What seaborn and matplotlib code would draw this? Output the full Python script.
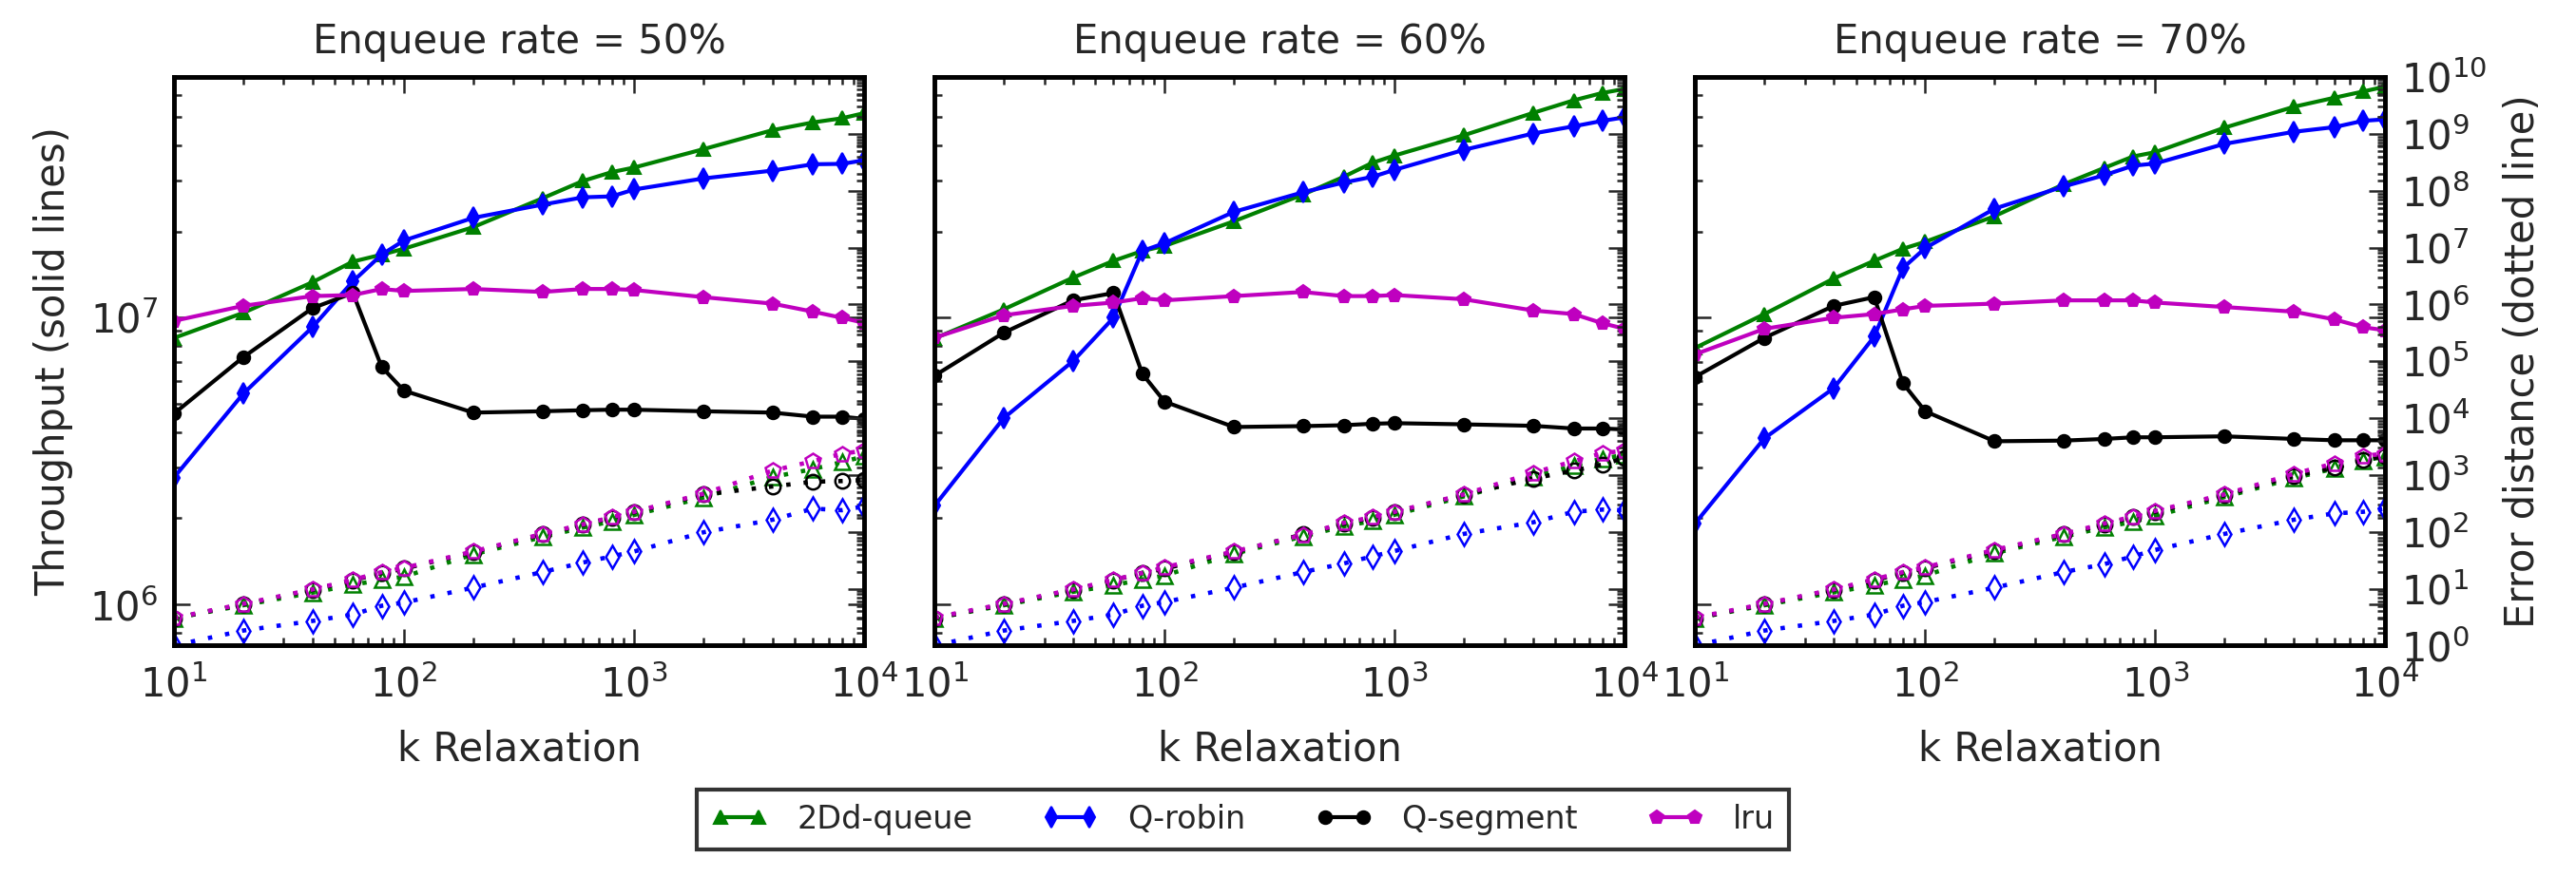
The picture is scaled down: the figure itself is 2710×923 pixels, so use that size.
import numpy as np
import pandas as pd
import matplotlib
matplotlib.use("Agg")
import matplotlib.pyplot as plt
import matplotlib.ticker as mticker
import seaborn as sns

# enqueue rates (one panel each) and relaxation values
rates = [50, 60, 70]
k_values = [10, 20, 40, 60, 80, 100, 200, 400, 600, 800, 1000, 2000, 4000, 6000, 8000, 10000]

# throughput (solid lines), one row per enqueue rate
tput_2dd = [
    [8.5e6, 1.04e7, 1.33e7, 1.57e7, 1.66e7, 1.74e7, 2.07e7, 2.61e7, 3.0e7, 3.22e7, 3.34e7, 3.87e7, 4.51e7, 4.80e7, 4.96e7, 5.17e7],
    [8.47e6, 1.07e7, 1.38e7, 1.58e7, 1.71e7, 1.78e7, 2.17e7, 2.69e7, 3.1e7, 3.47e7, 3.68e7, 4.33e7, 5.18e7, 5.73e7, 6.08e7, 6.28e7],
    [7.85e6, 1.03e7, 1.37e7, 1.58e7, 1.74e7, 1.84e7, 2.26e7, 2.92e7, 3.33e7, 3.65e7, 3.78e7, 4.6e7, 5.44e7, 5.85e7, 6.15e7, 6.4e7],
]
tput_robin = [
    [2.77e6, 5.43e6, 9.27e6, 1.34e7, 1.66e7, 1.86e7, 2.23e7, 2.48e7, 2.63e7, 2.65e7, 2.80e7, 3.06e7, 3.26e7, 3.43e7, 3.44e7, 3.54e7],
    [2.21e6, 4.47e6, 7.06e6, 1.0e7, 1.71e7, 1.82e7, 2.34e7, 2.74e7, 2.96e7, 3.1e7, 3.28e7, 3.85e7, 4.39e7, 4.65e7, 4.86e7, 5.0e7],
    [1.92e6, 3.8e6, 5.68e6, 8.59e6, 1.49e7, 1.75e7, 2.4e7, 2.87e7, 3.14e7, 3.39e7, 3.45e7, 4.04e7, 4.45e7, 4.62e7, 4.86e7, 4.92e7],
]
tput_segment = [
    [4.63e6, 7.28e6, 1.08e7, 1.22e7, 6.74e6, 5.57e6, 4.67e6, 4.72e6, 4.76e6, 4.78e6, 4.78e6, 4.72e6, 4.67e6, 4.52e6, 4.52e6, 4.44e6],
    [6.28e6, 8.87e6, 1.15e7, 1.22e7, 6.38e6, 5.1e6, 4.16e6, 4.19e6, 4.22e6, 4.27e6, 4.29e6, 4.25e6, 4.2e6, 4.11e6, 4.11e6, 4.08e6],
    [6.22e6, 8.51e6, 1.10e7, 1.18e7, 5.91e6, 4.72e6, 3.71e6, 3.73e6, 3.78e6, 3.83e6, 3.83e6, 3.86e6, 3.78e6, 3.74e6, 3.74e6, 3.74e6],
]
tput_lru = [
    [9.75e6, 1.10e7, 1.19e7, 1.20e7, 1.26e7, 1.24e7, 1.26e7, 1.23e7, 1.26e7, 1.26e7, 1.25e7, 1.18e7, 1.12e7, 1.05e7, 1.0e7, 9.6e6],
    [8.52e6, 1.02e7, 1.10e7, 1.13e7, 1.17e7, 1.15e7, 1.19e7, 1.23e7, 1.19e7, 1.19e7, 1.20e7, 1.16e7, 1.06e7, 1.03e7, 9.57e6, 9.15e6],
    [7.46e6, 9.15e6, 1.0e7, 1.03e7, 1.07e7, 1.10e7, 1.12e7, 1.15e7, 1.15e7, 1.15e7, 1.13e7, 1.09e7, 1.05e7, 9.87e6, 9.27e6, 9.04e6],
]

# error distance (dotted lines), one row per enqueue rate
err_2dd = [
    [3.0, 5.1, 8.5, 11.7, 14.3, 16.2, 40, 81, 119, 153, 198, 401, 923, 1273, 1687, 2128],
    [3.0, 5.1, 8.8, 11.5, 14.5, 17, 41, 83, 125, 155, 200, 420, 930, 1450, 1950, 2250],
    [3.0, 5.1, 8.6, 11.5, 14.5, 17, 42, 82, 120, 150, 190, 410, 880, 1300, 1800, 2100],
]
err_robin = [
    [1.0, 1.83, 2.7, 3.5, 5.0, 5.7, 10.4, 19.6, 28.8, 37, 45, 98, 163, 256, 240, 280],
    [1.0, 1.83, 2.7, 3.5, 5.0, 5.8, 10.4, 19.6, 27.7, 37, 46, 92, 147, 225, 246, 240],
    [1.0, 1.83, 2.7, 3.5, 5.0, 5.8, 10.4, 19.6, 27, 37, 48, 92, 163, 211, 225, 256],
]
err_segment = [
    [3.0, 5.3, 9.5, 14, 19, 22.5, 44, 90, 132, 178, 220, 455, 628, 762, 782, 813],
    [3.0, 5.3, 9.5, 14, 19, 22.5, 44, 90, 138, 178, 220, 450, 867, 1194, 1530, 2000],
    [3.0, 5.3, 9.5, 14, 19, 23, 46, 90, 135, 180, 225, 440, 960, 1350, 1850, 2150],
]
err_lru = [
    [3.05, 5.4, 9.7, 14.3, 19.6, 23.2, 45, 92, 135, 181, 225, 469, 1194, 1750, 2360, 2680],
    [3.1, 5.4, 9.7, 14.3, 18.9, 23.8, 45, 88, 144, 181, 225, 456, 1092, 1750, 2415, 2680],
    [3.1, 5.4, 9.7, 14.6, 19.6, 23.8, 48, 92, 140, 186, 234, 456, 1050, 1600, 2180, 2360],
]

names = ["2Dd-queue", "Q-robin", "Q-segment", "lru"]
colors = ["g", "b", "k", "m"]
markers = ["^", "d", "o", "p"]
msizes = [3.3, 3.6, 3.2, 3.4]
tputs = [tput_2dd, tput_robin, tput_segment, tput_lru]
errs = [err_2dd, err_robin, err_segment, err_lru]

sns.set_style("ticks", {"xtick.direction": "in", "ytick.direction": "in",
                        "axes.edgecolor": "black"})
plt.rcParams["font.family"] = ["DejaVu Sans"]
plt.rcParams.update({
    "font.size": 10,
    "axes.linewidth": 1.1,
    "xtick.major.size": 4, "xtick.minor.size": 2,
    "ytick.major.size": 4, "ytick.minor.size": 2,
    "xtick.major.width": 0.6, "xtick.minor.width": 0.6,
    "ytick.major.width": 0.6, "ytick.minor.width": 0.6,
    "xtick.labelsize": 10, "ytick.labelsize": 10,
    "xtick.major.pad": 5, "ytick.major.pad": 4,
})

fig, axes = plt.subplots(1, 3, figsize=(2710 / 300, 923 / 300), dpi=300, sharey=True)
fig.subplots_adjust(left=0.0675, right=0.926, bottom=0.264, top=0.912, wspace=0.102)

for i, ax in enumerate(axes):
    ax.set_xscale("log")
    ax.set_yscale("log")
    twin = ax.twinx()
    twin.set_yscale("log")

    # throughput, solid lines with filled markers
    for j in range(4):
        sns.lineplot(x=k_values, y=tputs[j][i], ax=ax, color=colors[j], lw=1.0,
                     marker=markers[j], markersize=msizes[j],
                     markeredgecolor=colors[j], markerfacecolor=colors[j],
                     markeredgewidth=0.5, label=names[j], legend=False,
                     errorbar=None)
    # error distance, dotted lines with hollow markers
    for j in range(4):
        sns.lineplot(x=k_values, y=errs[j][i], ax=twin, color=colors[j], lw=1.1,
                     linestyle=(0, (1, 3)), marker=markers[j],
                     markersize=msizes[j] + 0.5, markeredgecolor=colors[j],
                     markerfacecolor="none", markeredgewidth=0.6,
                     legend=False, errorbar=None)

    ax.set_xlim(10, 1e4)
    ax.set_ylim(7.2e5, 6.9e7)
    twin.set_ylim(1, 1e10)
    ax.yaxis.set_minor_formatter(mticker.NullFormatter())

    twin.yaxis.set_major_locator(mticker.LogLocator(base=10, numticks=20))
    twin.yaxis.set_minor_locator(mticker.LogLocator(base=10, subs=np.arange(2, 10) * 1.0, numticks=20))
    twin.yaxis.set_minor_formatter(mticker.NullFormatter())

    ax.tick_params(which="both", direction="in", top=True, right=True,
                   labelleft=(i == 0))
    twin.tick_params(which="both", direction="in", right=True, left=False,
                     labelright=(i == 2))

    ax.set_title(f"Enqueue rate = {rates[i]}%", fontsize=10)
    ax.set_xlabel("k Relaxation", fontsize=10, labelpad=6)
    if i == 0:
        ax.set_ylabel("Throughput (solid lines)", fontsize=10)
    else:
        ax.set_ylabel("")
    if i == 2:
        twin.set_ylabel("Error distance (dotted line)", fontsize=10)
    for sp in twin.spines.values():
        sp.set_linewidth(1.1)

handles, labels = axes[0].get_legend_handles_labels()
leg = fig.legend(handles, labels, loc="center", bbox_to_anchor=(0.4825, 0.066),
                 ncol=4, fontsize=8, frameon=True, fancybox=False,
                 edgecolor="black", numpoints=2, handlelength=1.8,
                 handletextpad=0.9, columnspacing=2.2, borderpad=0.45)
leg.get_frame().set_linewidth(1.0)

fig.savefig("out.png", dpi=300, facecolor="white")
